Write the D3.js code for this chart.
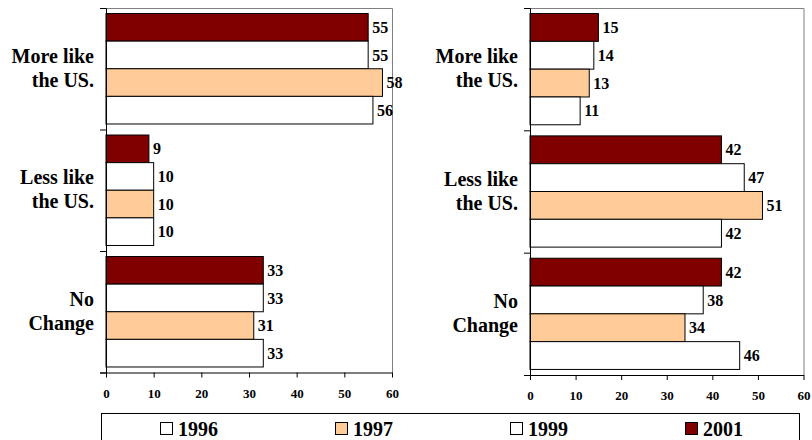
<!DOCTYPE html>
<html>
<head>
<meta charset="utf-8">
<script src="https://cdn.jsdelivr.net/npm/d3@7"></script>
</head>
<body style="margin:0;padding:0;background:#fff">
<svg id="chart" width="812" height="440" style="display:block"></svg>
<script>
// ---- data ----
const categories = [["More like", "the US."], ["Less like", "the US."], ["No", "Change"]];
const categoryKeys = ["more", "less", "none"];
const seriesNames = ["1996", "1997", "1999", "2001"];
const seriesColors = ["#FFFFFF", "#FFCC99", "#FFFFFF", "#800000"];
const leftValues = {   // per series, in category order
  "1996": [56, 10, 33],
  "1997": [58, 10, 31],
  "1999": [55, 10, 33],
  "2001": [55, 9, 33]
};
const rightValues = {
  "1996": [11, 42, 46],
  "1997": [13, 51, 34],
  "1999": [14, 47, 38],
  "2001": [15, 42, 42]
};
const xTicks = [0, 10, 20, 30, 40, 50, 60];

const FONT = "'Liberation Serif', 'Times New Roman', Times, serif";
const svg = d3.select("#chart");

function serif(sel, size) {
  return sel.style("font-family", FONT).style("font-weight", "bold").style("font-size", size + "px");
}

function panel(values, x0, x1, y0, y1) {
  const g = svg.append("g");
  const x = d3.scaleLinear().domain([0, 60]).range([x0, x1]);
  const yCat = d3.scaleBand().domain(categoryKeys).range([y0, y1]).padding(0);
  // top to bottom: 2001, 1999, 1997, 1996
  const order = seriesNames.slice().reverse();
  const ySer = d3.scaleBand().domain(order).range([0, yCat.bandwidth()]).paddingInner(0).paddingOuter(0.2);

  // frame (top and right border, gray)
  g.append("path")
    .attr("d", `M${x0},${y0 + 0.5}H${x1 + 0.5}V${y1}`)
    .attr("fill", "none").attr("stroke", "#808080").attr("stroke-width", 1);

  // bars
  categoryKeys.forEach((c, ci) => {
    order.forEach((s) => {
      const v = values[s][ci];
      const si = seriesNames.indexOf(s);
      const yy = yCat(c) + ySer(s);
      g.append("rect")
        .attr("x", x(0))
        .attr("y", yy)
        .attr("width", x(v) - x(0))
        .attr("height", ySer.bandwidth())
        .attr("fill", seriesColors[si])
        .attr("stroke", "#000")
        .attr("stroke-width", 1);
      g.append("text")
        .attr("x", x(v) + 4)
        .attr("y", yy + ySer.bandwidth() / 2)
        .attr("dy", "0.35em")
        .attr("fill", "#000")
        .call(serif, 16)
        .text(v);
    });
    // category label
    const cy = yCat(c) + yCat.bandwidth() / 2;
    const t = g.append("text")
      .attr("text-anchor", "end")
      .attr("x", x0 - 12)
      .attr("fill", "#000")
      .call(serif, 20);
    categories[ci].forEach((line, li) => {
      t.append("tspan").attr("x", x0 - 12).attr("y", cy - 6 + li * 24).text(line);
    });
  });

  // left axis with ticks at category boundaries
  const yBound = d3.scaleLinear().domain([0, 3]).range([y0, y1]);
  const yAxis = d3.axisLeft(yBound).tickValues([0, 1, 2, 3]).tickSize(6).tickFormat("");
  g.append("g").attr("transform", `translate(${x0},0)`).call(yAxis)
    .call(a => a.select(".domain").attr("stroke", "#000"));

  // bottom axis
  const xAxis = d3.axisBottom(x).tickValues(xTicks).tickSize(5).tickSizeOuter(0).tickPadding(11);
  const xa = g.append("g").attr("transform", `translate(0,${y1})`).call(xAxis);
  xa.selectAll("text").attr("fill", "#000").call(serif, 13);
  xa.selectAll("line").attr("stroke", "#000");
  xa.select(".domain").attr("stroke", "#000");
}

panel(leftValues, 106, 392, 8, 372.5);
panel(rightValues, 530, 803.5, 8, 375);

// legend
const lg = svg.append("g");
lg.append("rect").attr("x", 101.5).attr("y", 413.5).attr("width", 698).attr("height", 40)
  .attr("fill", "#fff").attr("stroke", "#000").attr("stroke-width", 1);
const legendX = d3.scalePoint().domain(seriesNames).range([160, 685]);
seriesNames.forEach((s, i) => {
  const lx = legendX(s);
  lg.append("rect").attr("x", lx + 0.5).attr("y", 422.5).attr("width", 12).attr("height", 12)
    .attr("fill", seriesColors[i]).attr("stroke", "#000").attr("stroke-width", 1);
  lg.append("text").attr("x", lx + 18).attr("y", 436).attr("fill", "#000")
    .call(serif, 20).text(s);
});
</script>
</body>
</html>
